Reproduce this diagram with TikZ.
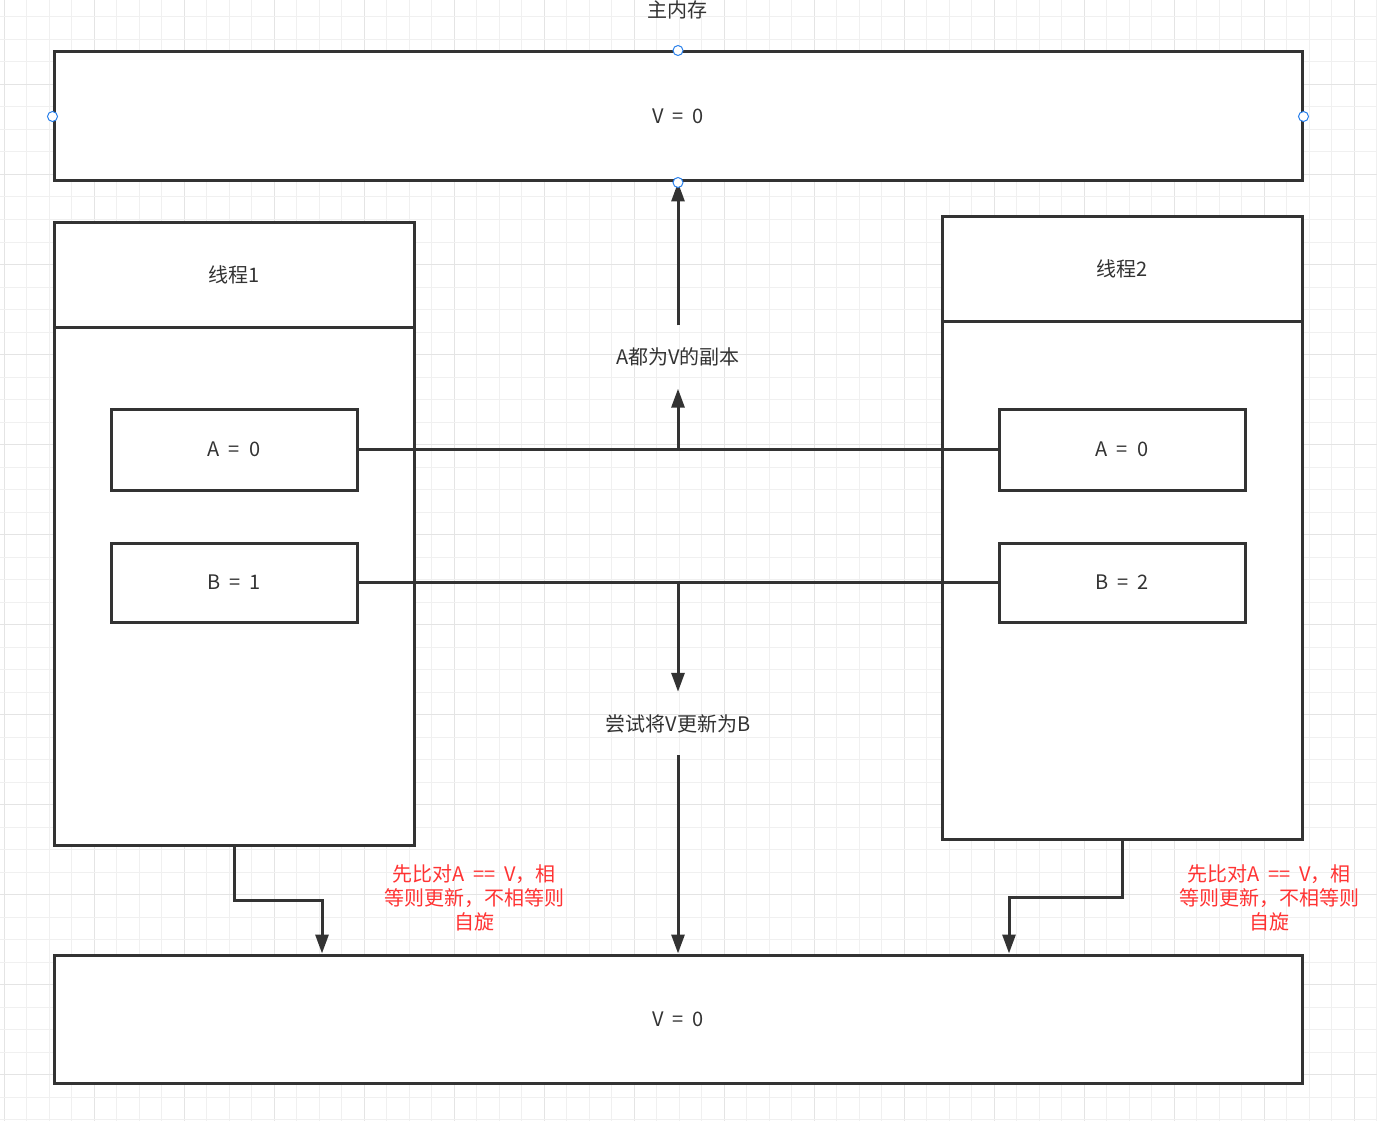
\documentclass[tikz,border=0pt]{standalone}
\usepackage{fontspec}
\setmainfont{Noto Sans CJK SC}[WordSpace=2]
\usetikzlibrary{arrows.meta}
\definecolor{ink}{RGB}{51,51,51}
\definecolor{gridminor}{RGB}{240,240,240}
\definecolor{gridmajor}{RGB}{228,228,228}
\definecolor{handle}{RGB}{41,128,235}
\definecolor{note}{RGB}{255,51,51}
\tikzset{
  box/.style={draw=ink, line width=3pt, fill=white, text=ink, inner sep=0pt, font=\fontsize{20}{24}\selectfont},
  lbl/.style={text=ink, inner sep=0pt, font=\fontsize{20}{24}\selectfont, align=center},
  redlbl/.style={text=note, inner sep=0pt, font=\fontsize{20}{24}\selectfont, align=center},
  conn/.style={draw=ink, line width=3pt},
  arr/.style={conn, -{Triangle[length=19pt,width=13pt]}},
  hdl/.style={circle, draw=handle, line width=1pt, fill=white, minimum size=10pt, inner sep=0pt},
}
\begin{document}
\begin{tikzpicture}[x=1pt,y=-1pt]
\useasboundingbox (0,0) rectangle (1377,1121);
\fill[white] (0,0) rectangle (1377,1121);
% grid
\foreach \i in {0,...,61} {
  \pgfmathsetmacro{\gx}{4+22.5*\i}
  \pgfmathtruncatemacro{\m}{mod(\i,4)}
  \ifnum\m=0 \draw[gridmajor, line width=1pt] (\gx,0) -- (\gx,1121);
  \else \draw[gridminor, line width=1pt] (\gx,0) -- (\gx,1121); \fi
}
\foreach \j in {0,...,50} {
  \pgfmathsetmacro{\gy}{17+22.5*(\j-1)}
  \pgfmathtruncatemacro{\m}{mod(\j,4)}
  \ifnum\m=0 \draw[gridmajor, line width=1pt] (0,\gy) -- (1377,\gy);
  \else \draw[gridminor, line width=1pt] (0,\gy) -- (1377,\gy); \fi
}

% main memory
\node[lbl] (title) at (677,10) {主内存};
\node[box, minimum width=1248pt, minimum height=129pt] (mem) at (678,116.5) {V = 0};

% thread 1
\node[box, minimum width=360pt, minimum height=105pt] (t1h) at (234,274.5) {线程1};
\node[box, minimum width=360pt, minimum height=518pt] (t1b) at (234,586) {};
\node[box, minimum width=246pt, minimum height=81pt] (a1) at (234,449.5) {A = 0};
\node[box, minimum width=246pt, minimum height=79pt] (b1) at (234,582.5) {B = 1};

% thread 2
\node[box, minimum width=360pt, minimum height=105pt] (t2h) at (1122,268.5) {线程2};
\node[box, minimum width=360pt, minimum height=518pt] (t2b) at (1122,580) {};
\node[box, minimum width=246pt, minimum height=81pt] (a2) at (1122,449.5) {A = 0};
\node[box, minimum width=246pt, minimum height=79pt] (b2) at (1122,582.5) {B = 2};

% bottom memory
\node[box, minimum width=1248pt, minimum height=128pt] (mem2) at (678,1019) {V = 0};

% horizontal links
\draw[conn] (a1.east) -- (a2.west);
\draw[conn] (b1.east) -- (b2.west);
\coordinate (ja) at (678,449.5);
\coordinate (jb) at (678,582.5);

% labels on vertical links
\node[lbl, minimum height=63pt] (la) at (678,357) {A都为V的副本};
\node[lbl, minimum height=63pt] (lb) at (678,723.5) {尝试将V更新为B};

\draw[arr] (ja) -- (la.south);
\draw[arr] (la.north) -- (mem.south);
\draw[arr] (jb) -- (lb.north);
\draw[arr] (lb.south) -- (mem2.north);

% elbow connectors
\draw[arr] (t1b.south) |- (322,900) -- (322,953.5);
\draw[arr] (t2b.south) |- (1009,897) -- (1009,953.5);

% red notes
\node[redlbl] (n1) at (474,898) {先比对A == V，相\\等则更新，不相等则\\自旋};
\node[redlbl] (n2) at (1269,898) {先比对A == V，相\\等则更新，不相等则\\自旋};

% selection handles
\node[hdl] (h1) at (mem.north) {};
\node[hdl] (h2) at (mem.west) {};
\node[hdl] (h3) at (mem.east) {};
\node[hdl] (h4) at (mem.south) {};
\end{tikzpicture}
\end{document}
